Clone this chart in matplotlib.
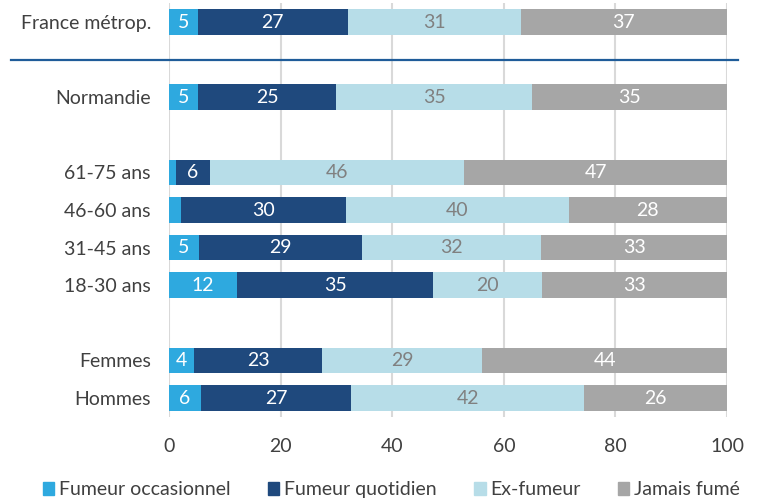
import matplotlib.pyplot as plt
import matplotlib.transforms as mtransforms
from matplotlib.patches import Patch

plt.rcParams['font.family'] = ['Lato', 'DejaVu Sans']

categories = ["France métrop.", "Normandie", "61-75 ans", "46-60 ans",
              "31-45 ans", "18-30 ans", "Femmes", "Hommes"]
positions = [0, 2, 4, 5, 6, 7, 9, 10]

# parts en % (les étiquettes sont arrondies)
occasionnel = [5.2, 5.2, 1.2, 2.1, 5.4, 12.2, 4.4, 5.7]
quotidien = [26.8, 24.8, 6.1, 29.6, 29.2, 35.1, 23.1, 27.0]
ex_fumeur = [31.0, 35.0, 45.6, 39.9, 32.1, 19.6, 28.6, 41.6]
jamais = [37.0, 35.0, 47.1, 28.4, 33.3, 33.1, 43.9, 25.7]

series = ["Fumeur occasionnel", "Fumeur quotidien", "Ex-fumeur", "Jamais fumé"]
colors = ["#2EA9DF", "#1F497D", "#B7DDE8", "#A6A6A6"]
text_colors = ["white", "white", "#808080", "white"]

fig = plt.figure(figsize=(7.6, 5.01), dpi=100)
ax = fig.add_axes([0.2224, 0.168, 0.7342, 0.8256])

left = [0] * len(categories)
for vals, col, tcol in zip([occasionnel, quotidien, ex_fumeur, jamais], colors, text_colors):
    ax.barh(positions, vals, left=left, height=0.68, color=col, zorder=2)
    for p, l, v in zip(positions, left, vals):
        if v >= 3:
            ax.text(l + v / 2, p, f"{v:.0f}", ha="center", va="center",
                    color=tcol, fontsize=14, zorder=3)
    left = [a + b for a, b in zip(left, vals)]

ax.set_xlim(0, 100)
ax.set_ylim(10.5, -0.5)
ax.set_xticks([0, 20, 40, 60, 80, 100])
ax.set_yticks(positions)
ax.set_yticklabels(categories)
ax.tick_params(length=0, labelsize=14, labelcolor="#404040")
ax.tick_params(axis="y", pad=13)
ax.tick_params(axis="x", pad=15)
ax.grid(axis="x", color="#D9D9D9", linewidth=1.5, zorder=0)
for s in ax.spines.values():
    s.set_visible(False)

# trait de séparation sous la France
trans = mtransforms.blended_transform_factory(fig.transFigure, ax.transData)
ax.plot([11 / 760, 738 / 760], [1, 1], color="#1F5C99", linewidth=1.6,
        transform=trans, clip_on=False, zorder=4)

handles = [Patch(color=c, label=s) for c, s in zip(colors, series)]
fig.legend(handles=handles, loc="center", bbox_to_anchor=(0.515, 0.022), ncol=4,
           frameon=False, fontsize=14, handlelength=0.6, handleheight=0.6,
           handletextpad=0.25, columnspacing=1.9, labelcolor="#404040")

plt.savefig("out.png", dpi=100)
